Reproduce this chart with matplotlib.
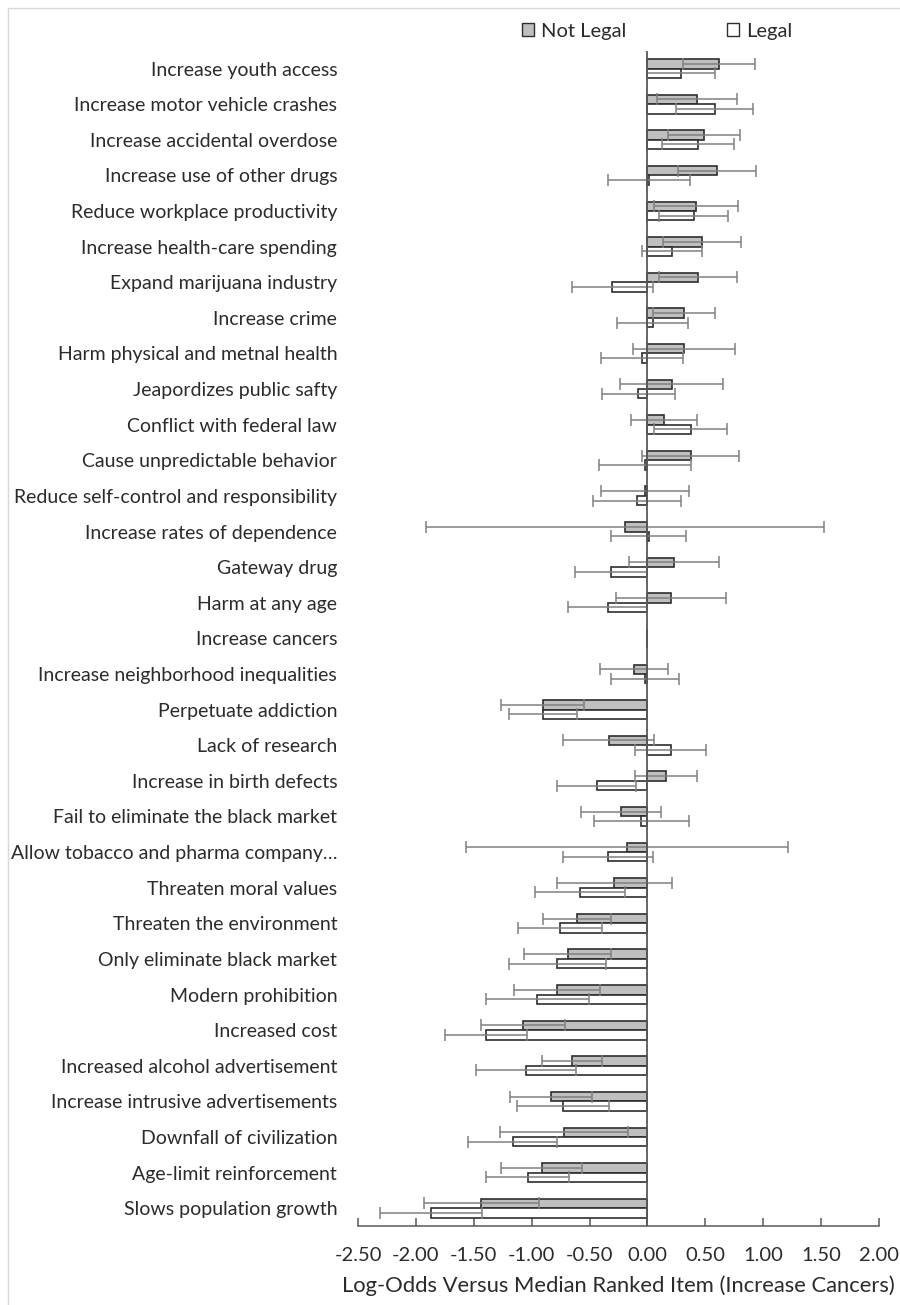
import matplotlib
matplotlib.use("Agg")
import matplotlib.pyplot as plt
from matplotlib.patches import Patch, Rectangle
import numpy as np

plt.rcParams['font.family'] = ['Lato', 'DejaVu Sans']

categories = [
    "Increase youth access",
    "Increase motor vehicle crashes",
    "Increase accidental overdose",
    "Increase use of other drugs",
    "Reduce workplace productivity",
    "Increase health-care spending",
    "Expand marijuana industry",
    "Increase crime",
    "Harm physical and metnal health",
    "Jeapordizes public safty",
    "Conflict with federal law",
    "Cause unpredictable behavior",
    "Reduce self-control and responsibility",
    "Increase rates of dependence",
    "Gateway drug",
    "Harm at any age",
    "Increase cancers",
    "Increase neighborhood inequalities",
    "Perpetuate addiction",
    "Lack of research",
    "Increase in birth defects",
    "Fail to eliminate the black market",
    "Allow tobacco and pharma company\u2026",
    "Threaten moral values",
    "Threaten the environment",
    "Only eliminate black market",
    "Modern prohibition",
    "Increased cost",
    "Increased alcohol advertisement",
    "Increase intrusive advertisements",
    "Downfall of civilization",
    "Age-limit reinforcement",
    "Slows population growth",
]

not_legal = [0.62, 0.43, 0.49, 0.60, 0.42, 0.47, 0.435, 0.315, 0.315, 0.21,
             0.14, 0.375, -0.02, -0.195, 0.23, 0.20, 0.0, -0.115, -0.905, -0.335,
             0.16, -0.225, -0.175, -0.285, -0.61, -0.69, -0.78, -1.075, -0.655,
             -0.835, -0.72, -0.915, -1.435]
not_legal_err = [0.31, 0.345, 0.31, 0.34, 0.36, 0.335, 0.335, 0.27, 0.44, 0.445,
                 0.285, 0.42, 0.38, 1.72, 0.385, 0.475, 0.0, 0.295, 0.36, 0.395,
                 0.27, 0.345, 1.39, 0.50, 0.295, 0.375, 0.37, 0.36, 0.26,
                 0.355, 0.55, 0.35, 0.495]
legal = [0.29, 0.58, 0.44, 0.01, 0.40, 0.21, -0.305, 0.045, -0.05, -0.08,
         0.375, -0.02, -0.09, 0.01, -0.315, -0.345, 0.0, -0.02, -0.905, 0.20,
         -0.44, -0.055, -0.34, -0.58, -0.755, -0.78, -0.95, -1.395, -1.05,
         -0.73, -1.165, -1.035, -1.87]
legal_err = [0.29, 0.33, 0.31, 0.355, 0.30, 0.26, 0.35, 0.305, 0.355, 0.315,
             0.315, 0.395, 0.38, 0.325, 0.315, 0.345, 0.0, 0.295, 0.295, 0.31,
             0.34, 0.41, 0.39, 0.39, 0.36, 0.42, 0.445, 0.355, 0.435,
             0.40, 0.385, 0.36, 0.44]

xticks = [-2.5, -2.0, -1.5, -1.0, -0.5, 0.0, 0.5, 1.0, 1.5, 2.0]
series_names = ["Not Legal", "Legal"]

W, H = 900, 1305
fig = plt.figure(figsize=(W / 100, H / 100), dpi=100)

# light chart border
fig.patches.append(Rectangle((8 / W, -0.01), 1.0, 1 - 7.5 / H + 0.01,
                             transform=fig.transFigure, fill=False,
                             edgecolor="#d9d9d9", linewidth=1.0))

ax = fig.add_axes([358 / W, 79 / H, (879 - 358) / W, (1226 - 50.7) / H])

text_col = "#2b2b2b"
axis_col = "#595959"
edge_col = "#2e2e2e"
err_col = "#808080"

y = np.arange(len(categories))
h = 0.264

ax.barh(y - h / 2, not_legal, height=h, color="#bfbfbf", edgecolor=edge_col,
        linewidth=1.2, zorder=2)
ax.barh(y + h / 2, legal, height=h, color="white", edgecolor=edge_col,
        linewidth=1.2, zorder=2)

nl_mask = np.array(not_legal_err) > 0
lg_mask = np.array(legal_err) > 0
ax.errorbar(np.array(not_legal)[nl_mask], (y - h / 2)[nl_mask],
            xerr=np.array(not_legal_err)[nl_mask], fmt="none", ecolor=err_col,
            elinewidth=1.1, capsize=4.2, capthick=1.1, zorder=3)
ax.errorbar(np.array(legal)[lg_mask], (y + h / 2)[lg_mask],
            xerr=np.array(legal_err)[lg_mask], fmt="none", ecolor=err_col,
            elinewidth=1.1, capsize=4.2, capthick=1.1, zorder=3)

ax.axvline(0, color=axis_col, linewidth=1.3, zorder=4)

ax.set_xlim(-2.5, 2.0)
ax.set_ylim(len(categories) - 0.5, -0.5)

ax.set_yticks(y)
ax.set_yticklabels(categories, fontsize=14, color=text_col)
ax.tick_params(axis="y", length=0, pad=15)

ax.set_xticks(xticks)
ax.set_xticklabels([f"{v:.2f}" for v in xticks], fontsize=14.5, color=text_col)
ax.tick_params(axis="x", direction="in", length=6, width=1.1,
               color=axis_col, pad=15)

for s in ("top", "right", "left"):
    ax.spines[s].set_visible(False)
ax.spines["bottom"].set_color(axis_col)
ax.spines["bottom"].set_linewidth(1.1)

ax.set_xlabel("Log-Odds Versus Median Ranked Item (Increase Cancers)",
              fontsize=15.8, color=text_col, labelpad=8)

handles = [Patch(facecolor="#bfbfbf", edgecolor=edge_col, linewidth=1.0),
           Patch(facecolor="white", edgecolor=edge_col, linewidth=1.0)]
fig.legend(handles, series_names, loc="center",
           bbox_to_anchor=(657 / W, 1 - 31 / H), ncol=2, frameon=False,
           fontsize=14.5, handlelength=0.6, handleheight=0.6,
           handletextpad=0.35, columnspacing=5.0, labelcolor=text_col)

fig.savefig("out.png", dpi=100)
